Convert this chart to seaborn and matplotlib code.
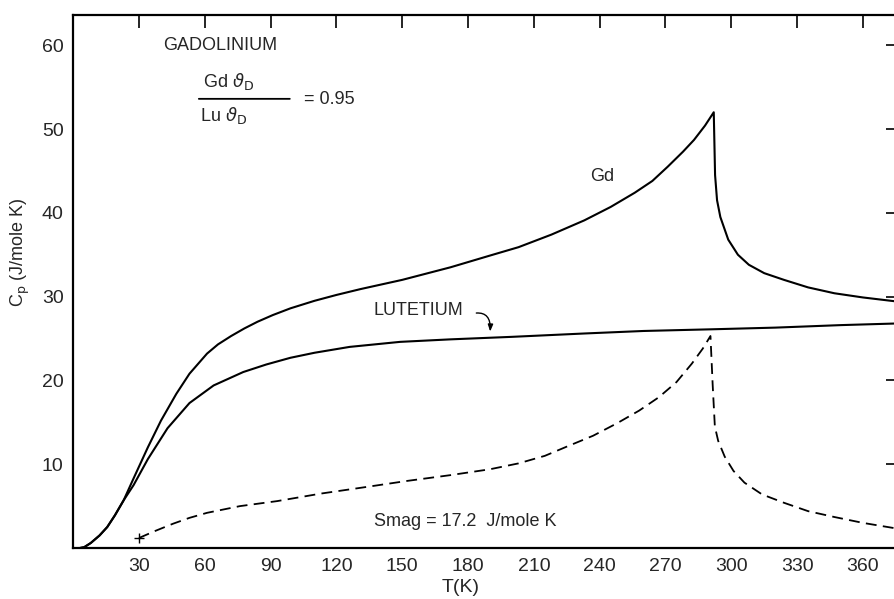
import matplotlib
matplotlib.use("Agg")
import matplotlib.pyplot as plt
import seaborn as sns
import pandas as pd

# Gd total heat capacity (solid, upper)
gd_T = [3, 5, 8, 12, 15.5, 19, 23, 27.5, 34, 40, 47, 53, 61, 66, 72, 78, 84, 91, 99,
        110, 120, 131, 150, 172, 190, 203, 218, 233, 245, 256, 264, 271, 278, 283, 288, 292,
        292.6, 293.5, 295, 298.6, 303, 308, 315, 324, 335, 347, 360, 376]
gd_cp = [0, 0.1, 0.6, 1.5, 2.5, 3.9, 5.7, 8.3, 12.0, 15.2, 18.4, 20.8, 23.2, 24.3, 25.3,
         26.2, 27.0, 27.8, 28.6, 29.5, 30.2, 30.9, 32.0, 33.5, 34.9, 35.9, 37.4, 39.1,
         40.7, 42.4, 43.8, 45.5, 47.3, 48.7, 50.4, 52.0,
         44.5, 41.5, 39.5, 36.8, 35.0, 33.8, 32.8, 32.0, 31.1, 30.4, 29.9, 29.4]

# Lu heat capacity (solid, lower)
lu_T = [3, 5, 8, 12, 15.5, 19, 23, 27.5, 34, 43, 53, 64, 77.5, 88, 99, 110, 126,
        149, 172, 200, 233, 260, 291, 320, 350, 376]
lu_cp = [0, 0.1, 0.6, 1.5, 2.5, 3.9, 5.7, 7.5, 10.6, 14.3, 17.3, 19.4, 21.0, 21.9, 22.7,
         23.3, 24.0, 24.6, 24.9, 25.2, 25.6, 25.9, 26.1, 26.3, 26.6, 26.8]

# magnetic contribution (dashed)
mag_T = [30, 37, 45.5, 53, 61, 76, 93, 113, 134, 152, 172, 190, 203, 215, 225, 237, 248,
         258, 267, 275, 282, 287, 290.5,
         291.5, 292.5, 294, 297, 301, 306, 314, 324, 335, 347, 360, 376]
mag_cp = [1.2, 2.0, 2.9, 3.6, 4.2, 5.0, 5.6, 6.5, 7.3, 8.0, 8.7, 9.4, 10.1, 11.0, 12.1,
          13.4, 14.9, 16.4, 18.0, 19.8, 22.0, 23.8, 25.3,
          19.5, 14.5, 12.8, 10.9, 9.2, 7.8, 6.4, 5.4, 4.4, 3.7, 3.0, 2.3]

x_ticks = [30, 60, 90, 120, 150, 180, 210, 240, 270, 300, 330, 360]
y_ticks = [10, 20, 30, 40, 50, 60]

gd = pd.DataFrame({"T": gd_T, "Cp": gd_cp})
lu = pd.DataFrame({"T": lu_T, "Cp": lu_cp})
mag = pd.DataFrame({"T": mag_T, "Cp": mag_cp})

sns.set_style("white")
plt.rcParams["font.family"] = ["Liberation Sans", "DejaVu Sans"]
plt.rcParams["mathtext.fontset"] = "dejavusans"

fig = plt.figure(figsize=(8.94, 5.99), dpi=100)
ax = fig.add_axes([0.0819, 0.0851, 0.9226, 0.8898])

sns.lineplot(data=gd, x="T", y="Cp", ax=ax, color="black", lw=1.5, estimator=None, sort=False)
sns.lineplot(data=lu, x="T", y="Cp", ax=ax, color="black", lw=1.5, estimator=None, sort=False)
sns.lineplot(data=mag, x="T", y="Cp", ax=ax, color="black", lw=1.3, estimator=None,
             sort=False, dashes=False, linestyle=(0, (6, 3.5)))
ax.scatter(mag_T[:1], mag_cp[:1], marker="+", color="black", s=50, lw=1)

ax.set_xlim(0, 376)
ax.set_ylim(0, 63.6)
ax.set_xticks(x_ticks)
ax.set_yticks(y_ticks)
ax.tick_params(direction="in", length=9, width=1.2, labelsize=14, color="black",
               top=True, right=True, pad=7)
for s in ax.spines.values():
    s.set_color("black")
    s.set_linewidth(1.6)

ax.set_xlabel("T(K)", fontsize=14)
ax.xaxis.set_label_coords(0.47, -0.058)
ax.set_ylabel(r"C$_{\rm p}$ (J/mole K)", fontsize=13)
ax.yaxis.set_label_coords(-0.050, 0.555)

ax.text(41, 60, "GADOLINIUM", fontsize=13, va="center")
ax.text(59, 55.7, r"Gd $\vartheta_{\rm D}$", fontsize=13, va="center")
ax.text(58, 51.6, r"Lu $\vartheta_{\rm D}$", fontsize=13, va="center")
ax.annotate("", xy=(100, 53.6), xytext=(56, 53.6),
            arrowprops=dict(arrowstyle="-", color="black", lw=1.3))
ax.text(105, 53.5, "= 0.95", fontsize=13, va="center")
ax.text(241, 44.3, "Gd", fontsize=13, ha="center", va="center")
ax.text(137, 28.3, "LUTETIUM", fontsize=13, va="center")
ax.annotate("", xy=(190, 25.5), xytext=(182.5, 28.0),
            arrowprops=dict(arrowstyle="-|>,head_length=0.4,head_width=0.15", color="black",
                            lw=1, connectionstyle="angle3,angleA=10,angleB=-95"))
ax.text(137, 3.2, "Smag = 17.2  J/mole K", fontsize=13, va="center")

fig.savefig("out.png", dpi=100, facecolor="white")
